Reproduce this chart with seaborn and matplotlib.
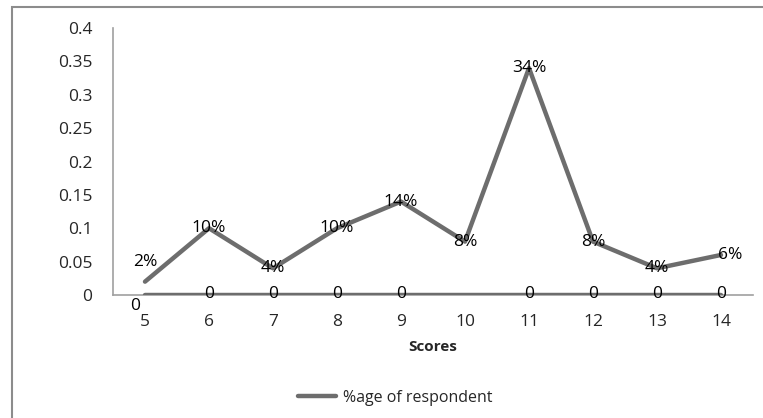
import matplotlib
matplotlib.use("Agg")
import matplotlib.pyplot as plt
import seaborn as sns
import pandas as pd
from matplotlib.patches import Rectangle
from matplotlib.lines import Line2D

scores = [5, 6, 7, 8, 9, 10, 11, 12, 13, 14]
pct_respondent = [0.02, 0.10, 0.04, 0.10, 0.14, 0.08, 0.34, 0.08, 0.04, 0.06]
pct_labels = ["2%", "10%", "4%", "10%", "14%", "8%", "34%", "8%", "4%", "6%"]
zero_series = [0, 0, 0, 0, 0, 0, 0, 0, 0, 0]
yticks = [0, 0.05, 0.1, 0.15, 0.2, 0.25, 0.3, 0.35, 0.4]
ytick_labels = ["0", "0.05", "0.1", "0.15", "0.2", "0.25", "0.3", "0.35", "0.4"]

sns.set_style("white")
plt.rcParams['font.family'] = ['Open Sans', 'DejaVu Sans']

W, H = 763, 418
FS = 12.5
fig = plt.figure(figsize=(W / 100, H / 100), dpi=100)
fig.patch.set_facecolor("white")

# outer chart border (left/top visible)
fig.add_artist(Rectangle((12 / W, -0.05), 1.2, 1 - 7 / H + 0.05, transform=fig.transFigure,
                         fill=False, edgecolor="#8c8c8c", linewidth=1.5))

ax = fig.add_axes([113 / W, 1 - 295 / H, (753 - 113) / W, (295 - 28) / H])
df = pd.DataFrame({"idx": range(len(scores)), "pct": pct_respondent, "zero": zero_series})

col = "#6d6d6d"
sns.lineplot(data=df, x="idx", y="zero", ax=ax, color=col, linewidth=3.2, zorder=3)
sns.lineplot(data=df, x="idx", y="pct", ax=ax, color=col, linewidth=3.2, zorder=4)

ax.set_xlim(-0.5, len(scores) - 0.5)
ax.set_ylim(0, 0.4)
ax.set_xticks(range(len(scores)))
ax.set_xticklabels([str(s) for s in scores], fontsize=FS)
ax.set_yticks(yticks)
ax.set_yticklabels(ytick_labels, fontsize=FS)
ax.tick_params(axis="both", length=0)
ax.tick_params(axis="y", pad=15)
ax.tick_params(axis="x", pad=14)
for s in ["top", "right"]:
    ax.spines[s].set_visible(False)
for s in ["left", "bottom"]:
    ax.spines[s].set_color("#a0a0a0")
    ax.spines[s].set_linewidth(1.2)
ax.set_xlabel("Scores", fontsize=11, fontweight="bold", labelpad=7)
ax.set_ylabel("")
ax.grid(False)

# data labels
for i, (v, lab) in enumerate(zip(pct_respondent, pct_labels)):
    dy = 0
    dx = 0
    if i == 0:
        dy = 0.029
    if i == len(scores) - 1:
        dx = 0.15
    ax.text(i + dx, v + dy, lab, ha="center", va="center", fontsize=FS, color="black", zorder=5)
for i, v in enumerate(zero_series):
    if i == 5:
        continue
    if i == 0:
        ax.text(i - 0.15, v - 0.016, "0", ha="center", va="center", fontsize=FS, color="black",
                zorder=5, clip_on=False)
    else:
        ax.text(i, v + 0.001, "0", ha="center", va="center", fontsize=FS, color="black", zorder=5,
                clip_on=False)

# legend
handle = Line2D([0], [0], color=col, linewidth=3.2)
fig.legend([handle], ["%age of respondent"], loc="center", bbox_to_anchor=(395 / W, 1 - 398 / H),
           frameon=False, fontsize=11.5, handlelength=2.4, handletextpad=0.4)

fig.savefig("out.png", dpi=100, facecolor="white")
